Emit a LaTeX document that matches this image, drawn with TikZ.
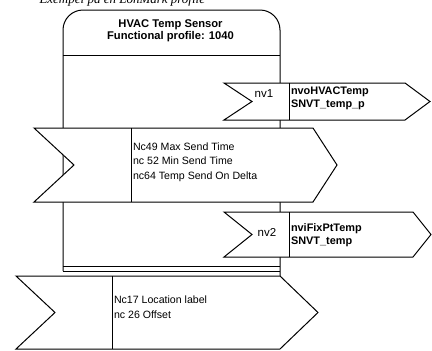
\documentclass[tikz,border=0pt]{standalone}
\usepackage{fontspec}
\setmainfont{Liberation Sans}
\newfontfamily\capfont{Liberation Serif}
\usepackage{tikz}
\usetikzlibrary{positioning}

\begin{document}
\begin{tikzpicture}[x=1pt,y=-1pt,line width=1pt,every node/.style={font=\fontsize{10.6}{14.5}\selectfont,inner sep=1pt},flag/.style={draw,fill=white,line join=miter},bold/.style={font=\fontsize{10.9}{13}\selectfont\bfseries,align=left},nvlabel/.style={font=\fontsize{11.5}{13}\selectfont}]
\useasboundingbox (0,0) rectangle (432,351);
\node[anchor=base west,font=\capfont\itshape\fontsize{13}{14}\selectfont](caption) at (38,3.5){Exempel på en LonMark profile};
% block body
\draw[rounded corners=20] (63,271) -- (63,10) -- (280,10) -- (280,276);
\draw (63,55) -- (280,55);
\draw (63,266.5) -- (280,266.5);
\draw (63,271) -- (280,271);
\node[font=\fontsize{11.2}{12.5}\selectfont\bfseries,align=center](title) at (170.5,31){HVAC Temp Sensor\\Functional profile: 1040};
% nv1
\draw[flag] (224,83) -- (405,83) -- (430,101.5) -- (405,120) -- (224,120) -- (252,101.5) -- cycle;
\draw (289,83) -- (289,120);
\node[nvlabel](nv1) at (264,94){nv1};
\node[bold,anchor=west](nvo) at (289.5,98.5){nvoHVACTemp\\SNVT\_temp\_p};
% config 1
\draw[flag] (34,128) -- (313,128) -- (337,165) -- (313,202) -- (34,202) -- (74,165) -- cycle;
\draw (131,128) -- (131,202);
\node[anchor=west,align=left](cfg1) at (131.5,162){Nc49 Max Send Time\\nc 52 Min Send Time\\nc64 Temp Send On Delta};
% nv2
\draw[flag] (224,212) -- (413,212) -- (431,234.5) -- (413,257) -- (224,257) -- (252,234.5) -- cycle;
\draw (289,212) -- (289,257);
\node[nvlabel](nv2) at (267,232){nv2};
\node[bold,anchor=west](nvi) at (289.5,235){nviFixPtTemp\\SNVT\_temp};
% config 2
\draw[flag] (16,276) -- (280,276) -- (318,312.5) -- (280,349) -- (16,349) -- (55,312.5) -- cycle;
\draw (112,276) -- (112,349);
\node[anchor=west,align=left](cfg2) at (112.5,307){Nc17 Location label\\nc 26 Offset};
\end{tikzpicture}
\end{document}
